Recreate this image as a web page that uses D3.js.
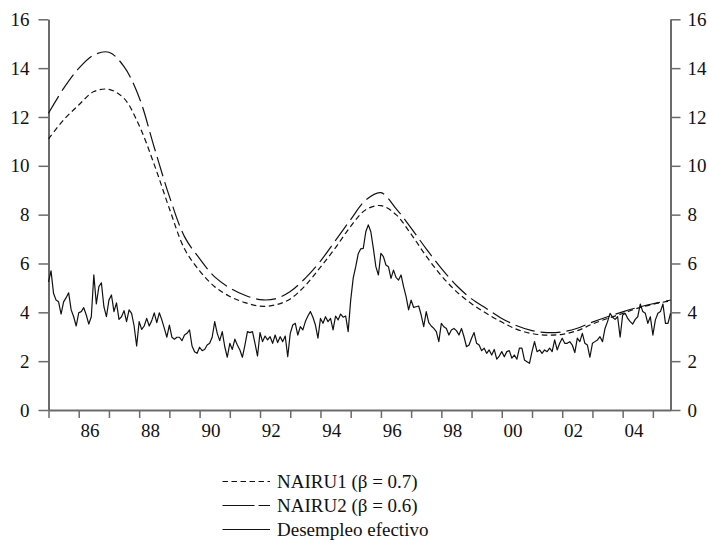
<!DOCTYPE html>
<html>
<head>
<meta charset="utf-8">
<script src="https://cdn.jsdelivr.net/npm/d3@7"></script>
<style>
  body { margin: 0; background: #fff; }
  svg { display: block; }
</style>
</head>
<body>
<div id="chart"></div>
<script>
// monthly series, starts Jan 1985 (month index 0)
const desempleo = [
  5.25, 5.7, 4.78, 4.5, 4.43, 3.93, 4.43, 4.6, 4.8, 4.1,
  3.82, 3.44, 3.98, 4.03, 4.19, 3.89, 3.52, 3.82, 5.53, 4.34,
  5.05, 5.21, 4.23, 3.82, 4.5, 4.71, 4.03, 4.39, 3.71, 3.82,
  4.07, 3.62, 4.1, 3.96, 3.44, 2.62, 3.62, 3.3, 3.44, 3.75,
  3.44, 3.66,
  3.98, 3.58, 3.98, 3.69, 3.34, 2.98, 3.48, 2.98, 2.9, 2.98,
  2.98, 2.84, 3.07, 3.14, 3.28, 2.62, 2.39, 2.32, 2.57, 2.43,
  2.48, 2.66, 2.73, 2.98, 3.62, 3.14, 2.84, 3.21, 2.59, 2.16,
  2.73, 2.48, 2.9, 2.66, 2.46, 2.16, 2.66, 3.21, 3.17, 3.21,
  2.73, 2.21, 3.17, 2.8, 3.03, 2.87, 3.0, 2.73, 3.07, 2.76,
  3.0, 2.8, 3.03, 2.18, 3.14, 3.48, 3.55, 3.07, 3.41, 3.28,
  3.62, 3.85, 4.03, 3.8, 3.48, 2.94, 3.75, 3.55, 3.82, 3.62,
  3.75, 3.28, 3.85, 3.69, 3.93, 3.8, 3.85, 3.21, 4.5, 5.4,
  5.87, 6.4, 6.6, 6.62, 7.3, 7.58, 7.3, 6.62, 5.87, 5.53,
  6.42, 6.28, 5.94, 5.87, 5.39, 5.73, 5.43, 5.32, 5.53, 5.05,
  4.64, 4.1, 4.5, 4.2, 4.23, 4.26, 3.89, 3.41, 4.03, 3.58,
  3.44, 3.34, 3.21, 2.8, 3.55, 3.41, 3.34, 3.07, 3.28, 3.34,
  3.25, 3.07, 3.34, 3.0, 2.59, 2.66, 2.94, 3.17, 2.73, 2.66,
  2.43, 2.53, 2.32, 2.46, 2.25, 2.48, 2.08, 2.21, 2.39, 2.18,
  2.39, 2.43, 2.12, 2.25, 2.08, 2.53, 2.53, 2.05, 1.98, 1.91,
  2.39, 2.8, 2.39, 2.46, 2.32, 2.46, 2.39, 2.53, 2.39, 2.87,
  2.46, 2.73, 2.94, 2.73, 2.73, 2.8, 2.66, 2.35, 2.94, 2.8,
  3.14, 2.73, 2.66, 2.16, 2.73, 2.8, 2.87, 3.0, 2.8, 3.34,
  3.62, 3.96, 3.8, 3.71, 3.82, 2.98, 3.89, 3.96, 3.75, 3.62,
  3.52, 3.71, 3.82, 4.34, 4.03, 3.96, 3.55, 3.82, 3.07, 3.69,
  3.96, 4.03, 4.34, 3.55, 3.55, 3.96
];

// NAIRU read every six months (month 0, 6, 12 ... 246) plus the last month 247
const nairuMonths = [
  0, 6, 12, 18, 24, 30, 36, 42, 48, 54,
  60, 66, 72, 78, 84, 90, 96, 102, 108, 114,
  120, 126, 132, 138, 144, 150, 156, 162, 168, 174,
  180, 186, 192, 198, 204, 210, 216, 222, 228, 234,
  240, 246, 247
];
const nairu1 = [
  11.1, 11.88, 12.49, 13.04, 13.13, 12.76, 11.65, 10.05, 8.25, 6.6,
  5.7, 5.05, 4.65, 4.4, 4.25, 4.3, 4.55, 5.1, 5.85, 6.65,
  7.52, 8.2, 8.37, 8.0, 7.2, 6.3, 5.5, 4.85, 4.35, 3.95,
  3.6, 3.3, 3.13, 3.07, 3.1, 3.25, 3.52, 3.75, 3.95, 4.17,
  4.33, 4.45, 4.46
];
const nairu2 = [
  12.15, 13.17, 13.99, 14.54, 14.65, 14.06, 12.8, 10.75, 8.75, 7.1,
  6.2, 5.45, 5.0, 4.7, 4.52, 4.55, 4.85, 5.4, 6.1, 6.95,
  7.8, 8.6, 8.9, 8.25, 7.45, 6.6, 5.8, 5.1, 4.55, 4.15,
  3.75, 3.45, 3.25, 3.17, 3.2, 3.35, 3.6, 3.82, 4.02, 4.2,
  4.35, 4.48, 4.5
];

const yTicks = [0, 2, 4, 6, 8, 10, 12, 14, 16];
const yearLabels = ["86", "88", "90", "92", "94", "96", "98", "00", "02", "04"];
const legendLabels = ["NAIRU1 (\u03b2 = 0.7)", "NAIRU2 (\u03b2 = 0.6)", "Desempleo efectivo"];

const width = 708, height = 542;
const axisColor = "#6b6b6b";
const font = "'Liberation Serif', 'Times New Roman', serif";

const x = d3.scaleLinear().domain([0, 247]).range([48.5, 670.5]);
const y = d3.scaleLinear().domain([0, 16]).range([410, 19.3]);

const svg = d3.select("#chart").append("svg")
    .attr("width", width)
    .attr("height", height)
    .style("font-family", font);

svg.append("rect").attr("width", width).attr("height", height).attr("fill", "#fff");

// y axes, left and right
const leftAxis = svg.append("g")
    .attr("transform", `translate(${x(0)},0)`)
    .call(d3.axisLeft(y).tickValues(yTicks).tickSize(10).tickSizeOuter(0).tickPadding(9));
const rightAxis = svg.append("g")
    .attr("transform", `translate(${x(247)},0)`)
    .call(d3.axisRight(y).tickValues(yTicks).tickSize(10).tickSizeOuter(0).tickPadding(7));

// x axis: a tick each January, labels sit inside the year
const yearTicks = d3.range(0, 241, 12);
const bottomAxis = svg.append("g")
    .attr("transform", `translate(0,${y(0)})`)
    .call(d3.axisBottom(x).tickValues(yearTicks).tickSize(8).tickSizeOuter(0).tickFormat(""));

[leftAxis, rightAxis, bottomAxis].forEach(g => {
  g.attr("font-family", null);
  g.select(".domain").attr("stroke", axisColor).attr("stroke-width", 2);
  g.selectAll(".tick line").attr("stroke", axisColor).attr("stroke-width", 1.5);
  g.selectAll(".tick text")
    .attr("fill", "#111")
    .style("font-size", "19px")
    .style("font-family", font);
});

svg.append("g")
  .selectAll("text")
  .data(yearLabels)
  .join("text")
    .attr("x", (d, i) => x((1 + 2 * i) * 12 + 4.5))
    .attr("y", 436.5)
    .attr("text-anchor", "middle")
    .attr("fill", "#111")
    .style("font-size", "19px")
    .text(d => d);

// lines
const smooth = d3.line()
    .x(d => x(d[0]))
    .y(d => y(d[1]))
    .curve(d3.curveCatmullRom);

svg.append("path")
    .datum(nairuMonths.map((m, i) => [m, nairu1[i]]))
    .attr("fill", "none")
    .attr("stroke", "#111")
    .attr("stroke-width", 1.2)
    .attr("stroke-dasharray", "5.5,3.5")
    .attr("d", smooth);

svg.append("path")
    .datum(nairuMonths.map((m, i) => [m, nairu2[i]]))
    .attr("fill", "none")
    .attr("stroke", "#111")
    .attr("stroke-width", 1.2)
    .attr("stroke-dasharray", "20,6")
    .attr("d", smooth);

svg.append("path")
    .datum(desempleo.map((v, i) => [i, v]))
    .attr("fill", "none")
    .attr("stroke", "#111")
    .attr("stroke-width", 1.2)
    .attr("stroke-linejoin", "round")
    .attr("d", d3.line().x(d => x(d[0])).y(d => y(d[1])));

// legend
const legendDash = ["5.5,3.5", "32,4", null];
const legend = svg.append("g")
  .selectAll("g")
  .data(legendLabels)
  .join("g")
    .attr("transform", (d, i) => `translate(222.5,${488 + i * 24})`);

legend.append("line")
    .attr("x1", 0).attr("x2", 47.5)
    .attr("y1", -6.5).attr("y2", -6.5)
    .attr("stroke", "#111")
    .attr("stroke-width", 1.2)
    .attr("stroke-dasharray", (d, i) => legendDash[i]);

legend.append("text")
    .attr("x", 54.5)
    .attr("fill", "#111")
    .style("font-size", "19px")
    .text(d => d);
</script>
</body>
</html>
